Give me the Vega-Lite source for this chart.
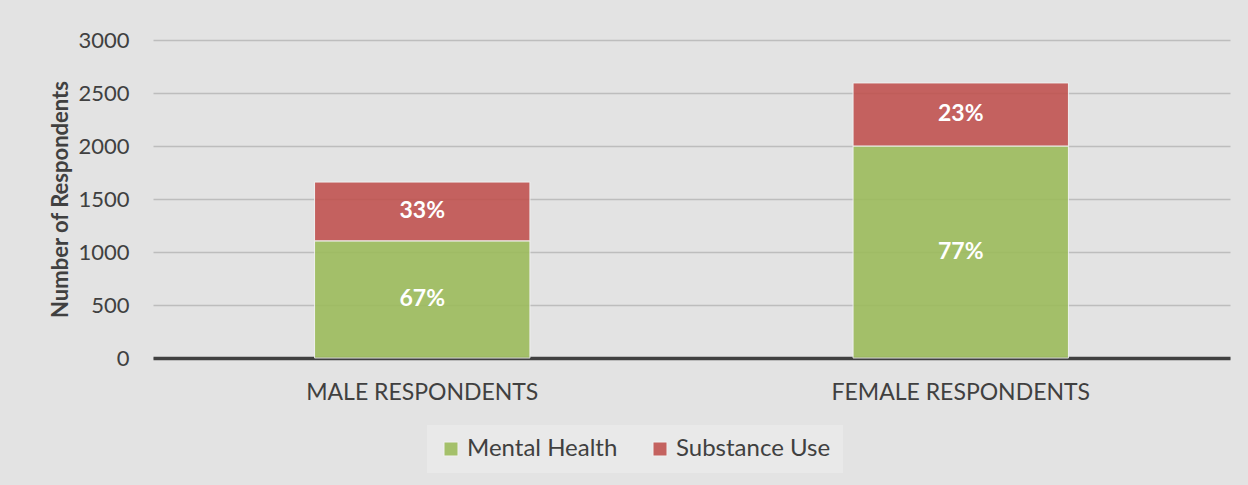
{
  "$schema": "https://vega.github.io/schema/vega-lite/v6.json",
  "width": 1077,
  "height": 318,
  "autosize": {"type": "none"},
  "padding": {"left": 153, "top": 40, "right": 18, "bottom": 127},
  "background": "#e3e3e3",
  "config": {"view": {"stroke": null}, "font": "Lato"},
  "data": {
    "values": [
      {"group": "MALE RESPONDENTS", "type": "Mental Health", "count": 1105, "label": "67%"},
      {"group": "MALE RESPONDENTS", "type": "Substance Use", "count": 555, "label": "33%"},
      {"group": "FEMALE RESPONDENTS", "type": "Mental Health", "count": 2000, "label": "77%"},
      {"group": "FEMALE RESPONDENTS", "type": "Substance Use", "count": 595, "label": "23%"}
    ]
  },
  "encoding": {
    "x": {
      "field": "group",
      "type": "nominal",
      "sort": ["MALE RESPONDENTS", "FEMALE RESPONDENTS"],
      "scale": {"paddingInner": 0.6, "paddingOuter": 0.3},
      "axis": {
        "title": null,
        "labelAngle": 0,
        "ticks": false,
        "labelFontSize": 23,
        "labelLimit": 0,
        "labelColor": "#404040",
        "labelPadding": 23,
        "domainColor": "#404040",
        "domainWidth": 3.5,
        "grid": false
      }
    }
  },
  "layer": [
    {
      "mark": {"type": "bar", "opacity": 0.88, "stroke": "#f2f2f2", "strokeWidth": 1},
      "encoding": {
        "y": {
          "field": "count",
          "type": "quantitative",
          "stack": "zero",
          "scale": {"domain": [0, 3000]},
          "axis": {
            "values": [0, 500, 1000, 1500, 2000, 2500, 3000],
            "format": "d",
            "title": "Number of Respondents",
            "titleFontSize": 22,
            "titleFontWeight": "bold",
            "titleColor": "#404040",
            "titlePadding": 5,
            "labelFontSize": 22,
            "labelColor": "#404040",
            "labelPadding": 24,
            "ticks": false,
            "domain": false,
            "grid": true,
            "gridColor": "#bdbdbd",
            "gridWidth": 1.5
          }
        },
        "color": {
          "field": "type",
          "type": "nominal",
          "scale": {"domain": ["Mental Health", "Substance Use"], "range": ["#9bbb59", "#c0504d"]},
          "legend": {
            "title": null,
            "orient": "none",
            "direction": "horizontal",
            "legendX": 274,
            "legendY": 385,
            "symbolType": "square",
            "symbolSize": 196,
            "symbolStrokeColor": "#f2f2f2",
            "symbolStrokeWidth": 1,
            "labelFontSize": 24,
            "labelColor": "#404040",
            "labelOffset": 4,
            "labelLimit": 0,
            "columnPadding": 30,
            "padding": 12,
            "fillColor": "#e9e9e9"
          }
        },
        "order": {"field": "type"}
      }
    },
    {
      "mark": {"type": "text", "color": "white", "fontWeight": "bold", "fontSize": 23, "baseline": "middle"},
      "encoding": {
        "y": {"field": "count", "type": "quantitative", "stack": "zero", "bandPosition": 0.5},
        "detail": {"field": "type"},
        "order": {"field": "type"},
        "text": {"field": "label"}
      }
    }
  ]
}
